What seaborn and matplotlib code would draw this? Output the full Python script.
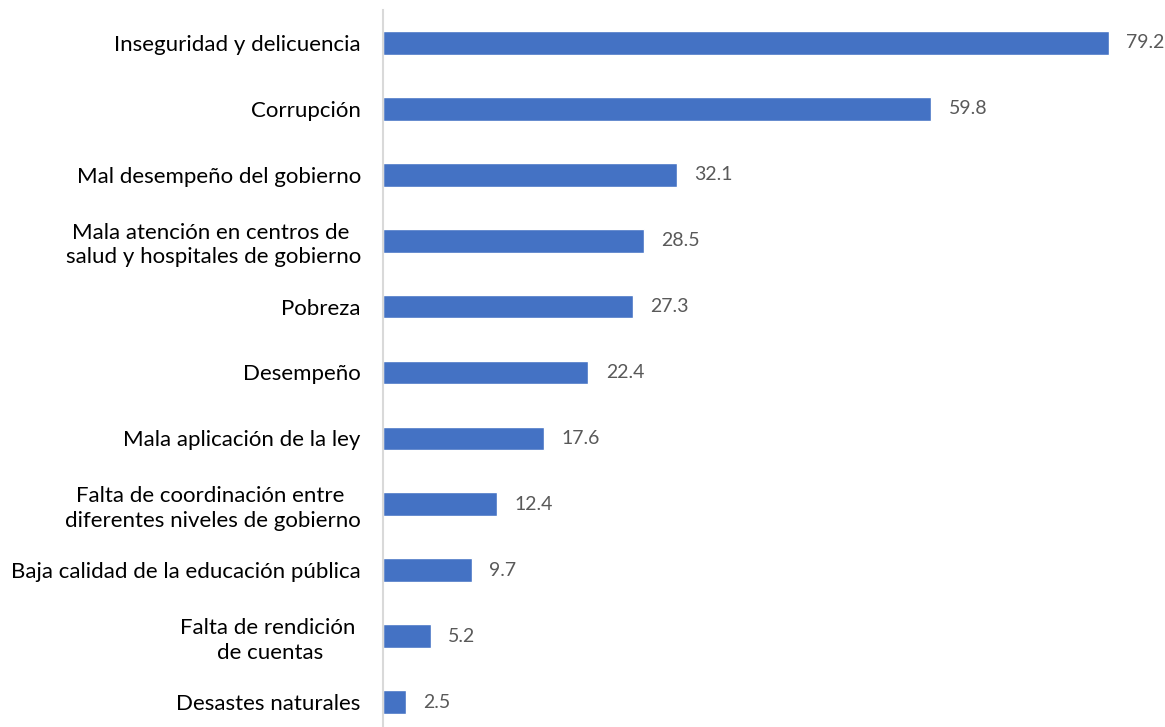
import matplotlib
matplotlib.use("Agg")
import matplotlib.pyplot as plt
import seaborn as sns
import pandas as pd

categories = [
    "Inseguridad y delicuencia",
    "Corrupción",
    "Mal desempeño del gobierno",
    "Mala atención en centros de \nsalud y hospitales de gobierno",
    "Pobreza",
    "Desempeño",
    "Mala aplicación de la ley",
    "Falta de coordinación entre \ndiferentes niveles de gobierno",
    "Baja calidad de la educación pública",
    "Falta de rendición \nde cuentas",
    "Desastes naturales",
]
values = [79.2, 59.8, 32.1, 28.5, 27.3, 22.4, 17.6, 12.4, 9.7, 5.2, 2.5]

df = pd.DataFrame({"cat": categories, "val": values})

sns.set_theme(style="white")
plt.rcParams["font.family"] = ["Lato", "DejaVu Sans"]

fig = plt.figure(figsize=(11.65, 7.27), dpi=100)
W, H = 1165, 727
left = 383 / W
top_px, bot_px = 10, 735
ax = fig.add_axes([left, 1 - bot_px / H, 1 - left - 0.001, (bot_px - top_px) / H])

sns.barplot(data=df, x="val", y="cat", color="#4472C4", width=0.36,
            saturation=1, ax=ax, orient="h")

ax.set_xlim(0, (W - 383) / 9.18)
ax.set_xlabel("")
ax.set_ylabel("")
ax.set_xticks([])
for s in ["top", "right", "bottom"]:
    ax.spines[s].set_visible(False)
ax.spines["left"].set_color("#D9D9D9")
ax.spines["left"].set_linewidth(1.5)
ax.tick_params(axis="y", length=0, pad=16, labelsize=16, labelcolor="#000000")
for lbl in ax.get_yticklabels():
    lbl.set_horizontalalignment("right")
    lbl.set_multialignment("center")
    lbl.set_linespacing(1.3)

for cont in ax.containers:
    ax.bar_label(cont, labels=[f"{v:.1f}" for v in values], padding=12.5,
                 color="#595959", fontsize=14)

fig.savefig("out.png", dpi=100)
